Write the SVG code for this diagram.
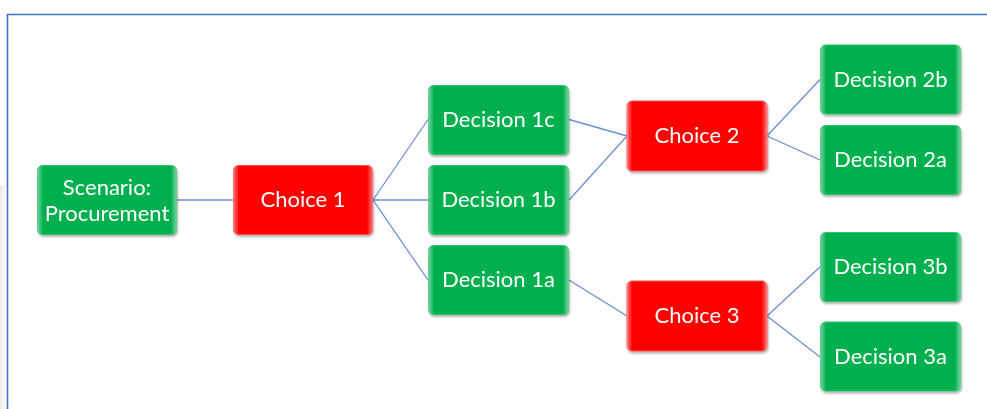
<svg xmlns="http://www.w3.org/2000/svg" width="987" height="409" viewBox="0 0 987 409">
  <defs>
    <style>
      .box { stroke-width: 1; }
      .green { fill: #00B050; stroke: #2fc46c; }
      .red { fill: #FF0000; stroke: #ff4a4a; }
      .bevel { fill: url(#edgeShine); stroke: none; }
      .label { font-family: "Lato", "Liberation Sans", sans-serif; font-size: 22px; fill: #ffffff; text-anchor: middle; }
      .link { stroke: #6f8fd0; stroke-width: 1.3; fill: none; }
    </style>
    <linearGradient id="edgeShine" x1="0" y1="0" x2="1" y2="0">
      <stop offset="0" stop-color="#ffffff" stop-opacity="0.45"/>
      <stop offset="0.04" stop-color="#ffffff" stop-opacity="0"/>
      <stop offset="0.96" stop-color="#ffffff" stop-opacity="0"/>
      <stop offset="1" stop-color="#ffffff" stop-opacity="0.45"/>
    </linearGradient>
    <linearGradient id="sideHaze" x1="0" y1="0" x2="1" y2="0">
      <stop offset="0" stop-color="#dcdcdc"/>
      <stop offset="1" stop-color="#f8f8f8"/>
    </linearGradient>
    <filter id="shadow" x="-10%" y="-10%" width="125%" height="130%">
      <feDropShadow dx="1" dy="2" stdDeviation="1.2" flood-color="#000000" flood-opacity="0.3"/>
    </filter>
  </defs>

  <rect x="0" y="0" width="987" height="409" fill="#ffffff"/>
  <!-- faint backdrop at the far left edge -->
  <rect x="0" y="185" width="6" height="224" fill="url(#sideHaze)" opacity="0.6"/>

  <!-- frame -->
  <path d="M7.5,409 V14.5 H987" fill="none" stroke="#4472C4" stroke-width="1.6"/>

  <!-- connectors -->
  <g id="connectors">
    <line class="link" x1="177" y1="200" x2="233" y2="200"/>
    <line class="link" x1="373" y1="200" x2="428" y2="119.5"/>
    <line class="link" x1="373" y1="200" x2="428" y2="200"/>
    <line class="link" x1="373" y1="200" x2="428" y2="280"/>
    <line class="link" x1="569" y1="119.5" x2="627" y2="136"/>
    <line class="link" x1="569" y1="200" x2="627" y2="136"/>
    <line class="link" x1="569" y1="280" x2="627" y2="316"/>
    <line class="link" x1="767" y1="136" x2="820" y2="79.5"/>
    <line class="link" x1="767" y1="136" x2="820" y2="160"/>
    <line class="link" x1="767" y1="316" x2="820" y2="267"/>
    <line class="link" x1="767" y1="316" x2="820" y2="357"/>
  </g>

  <g id="scenario" filter="url(#shadow)">
    <rect class="box green" x="37.5" y="165.5" width="139" height="69" rx="5"/>
    <rect class="bevel" x="37.5" y="165.5" width="139" height="69" rx="5"/>
    <text class="label" x="107" y="195">Scenario:</text>
    <text class="label" x="107" y="221">Procurement</text>
  </g>

  <g id="choice1" filter="url(#shadow)">
    <rect class="box red" x="233.5" y="165.5" width="139" height="69" rx="5"/>
    <rect class="bevel" x="233.5" y="165.5" width="139" height="69" rx="5"/>
    <text class="label" x="303" y="207">Choice 1</text>
  </g>

  <g id="decision1c" filter="url(#shadow)">
    <rect class="box green" x="428.5" y="85.5" width="140" height="69" rx="5"/>
    <rect class="bevel" x="428.5" y="85.5" width="140" height="69" rx="5"/>
    <text class="label" x="498.5" y="127">Decision 1c</text>
  </g>

  <g id="decision1b" filter="url(#shadow)">
    <rect class="box green" x="428.5" y="165.5" width="140" height="69" rx="5"/>
    <rect class="bevel" x="428.5" y="165.5" width="140" height="69" rx="5"/>
    <text class="label" x="498.5" y="207">Decision 1b</text>
  </g>

  <g id="decision1a" filter="url(#shadow)">
    <rect class="box green" x="428.5" y="245.5" width="140" height="69" rx="5"/>
    <rect class="bevel" x="428.5" y="245.5" width="140" height="69" rx="5"/>
    <text class="label" x="498.5" y="287">Decision 1a</text>
  </g>

  <g id="choice2" filter="url(#shadow)">
    <rect class="box red" x="627" y="101" width="140" height="70" rx="5"/>
    <rect class="bevel" x="627" y="101" width="140" height="70" rx="5"/>
    <text class="label" x="697" y="143">Choice 2</text>
  </g>

  <g id="choice3" filter="url(#shadow)">
    <rect class="box red" x="627" y="281" width="140" height="70" rx="5"/>
    <rect class="bevel" x="627" y="281" width="140" height="70" rx="5"/>
    <text class="label" x="697" y="323">Choice 3</text>
  </g>

  <g id="decision2b" filter="url(#shadow)">
    <rect class="box green" x="820.5" y="45" width="140" height="69" rx="5"/>
    <rect class="bevel" x="820.5" y="45" width="140" height="69" rx="5"/>
    <text class="label" x="890.5" y="87">Decision 2b</text>
  </g>

  <g id="decision2a" filter="url(#shadow)">
    <rect class="box green" x="820.5" y="125.5" width="140" height="69" rx="5"/>
    <rect class="bevel" x="820.5" y="125.5" width="140" height="69" rx="5"/>
    <text class="label" x="890.5" y="167">Decision 2a</text>
  </g>

  <g id="decision3b" filter="url(#shadow)">
    <rect class="box green" x="820.5" y="232.5" width="140" height="69" rx="5"/>
    <rect class="bevel" x="820.5" y="232.5" width="140" height="69" rx="5"/>
    <text class="label" x="890.5" y="274">Decision 3b</text>
  </g>

  <g id="decision3a" filter="url(#shadow)">
    <rect class="box green" x="820.5" y="322" width="140" height="69" rx="5"/>
    <rect class="bevel" x="820.5" y="322" width="140" height="69" rx="5"/>
    <text class="label" x="890.5" y="364">Decision 3a</text>
  </g>
</svg>
